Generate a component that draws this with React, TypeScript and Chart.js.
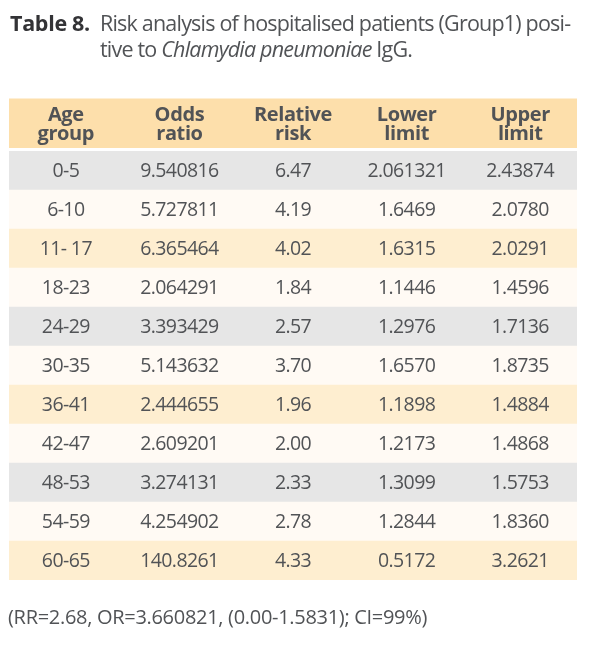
import React, { useEffect, useRef } from "react";
import { Chart, registerables } from "chart.js";

Chart.register(...registerables);

const headerTop = ["Age", "Odds", "Relative", "Lower", "Upper"];
const headerBottom = ["group", "ratio", "risk", "limit", "limit"];
const ageGroups = ["0-5", "6-10", "11- 17", "18-23", "24-29", "30-35", "36-41", "42-47", "48-53", "54-59", "60-65"];
const oddsRatio = ["9.540816", "5.727811", "6.365464", "2.064291", "3.393429", "5.143632", "2.444655", "2.609201", "3.274131", "4.254902", "140.8261"];
const relativeRisk = ["6.47", "4.19", "4.02", "1.84", "2.57", "3.70", "1.96", "2.00", "2.33", "2.78", "4.33"];
const lowerLimit = ["2.061321", "1.6469", "1.6315", "1.1446", "1.2976", "1.6570", "1.1898", "1.2173", "1.3099", "1.2844", "0.5172"];
const upperLimit = ["2.43874", "2.0780", "2.0291", "1.4596", "1.7136", "1.8735", "1.4884", "1.4868", "1.5753", "1.8360", "3.2621"];
const rowShade = ["gray", "cream", "orange", "cream", "gray", "cream", "orange", "cream", "gray", "cream", "orange"];

const COLORS: Record<string, string> = {
  gray: "#e6e6e6",
  cream: "#fffaf4",
  orange: "#feeed0",
  header: "#fddfab",
};
const TEXT = "#515356";
const FONT = '"Open Sans", sans-serif';

const tablePlugin = {
  id: "tableText",
  beforeDatasetsDraw(chart: any) {
    const { ctx, chartArea, scales } = chart;
    const x = scales.x;
    const x0 = x.getPixelForValue(0);
    const x1 = x.getPixelForValue(5);
    ctx.save();
    ctx.fillStyle = COLORS.header;
    ctx.fillRect(x0, chartArea.top - 52.5, x1 - x0, 49.5);
    ctx.fillStyle = TEXT;
    ctx.font = `bold 20px ${FONT}`;
    (ctx as any).letterSpacing = "-0.4px";
    ctx.textAlign = "center";
    ctx.textBaseline = "alphabetic";
    headerTop.forEach((t, i) => {
      const cx = x.getPixelForValue(i + 0.5);
      ctx.fillText(t, cx, chartArea.top - 30.5);
      ctx.fillText(headerBottom[i], cx, chartArea.top - 11);
    });
    ctx.restore();
  },
  afterDatasetsDraw(chart: any) {
    const { ctx, scales } = chart;
    const x = scales.x;
    const y = scales.y;
    const cols = [ageGroups, oddsRatio, relativeRisk, lowerLimit, upperLimit];
    ctx.save();
    ctx.fillStyle = TEXT;
    ctx.font = `19.5px ${FONT}`;
    (ctx as any).letterSpacing = "-0.6px";
    ctx.textAlign = "center";
    ctx.textBaseline = "middle";
    ageGroups.forEach((_, r) => {
      const cy = y.getPixelForValue(r);
      cols.forEach((col, c) => {
        ctx.fillText(col[r], x.getPixelForValue(c + 0.5), cy + 1);
      });
    });
    ctx.restore();
  },
};

export default function App() {
  const ref = useRef<HTMLCanvasElement | null>(null);
  useEffect(() => {
    if (!ref.current) return;
    const chart = new Chart(ref.current, {
      type: "bar",
      data: {
        labels: ageGroups,
        datasets: [
          {
            data: ageGroups.map(() => [0, 5]) as any,
            backgroundColor: rowShade.map((s) => COLORS[s]),
            borderWidth: 0,
            barPercentage: 1,
            categoryPercentage: 1,
          },
        ],
      },
      options: {
        indexAxis: "y",
        responsive: false,
        maintainAspectRatio: false,
        animation: false,
        layout: { padding: { left: 9, right: 28, top: 151, bottom: 81 } },
        plugins: { legend: { display: false }, tooltip: { enabled: false }, title: { display: false } },
        scales: {
          x: { type: "linear", min: 0, max: 5, display: false, grid: { display: false } },
          y: { type: "category", display: false, grid: { display: false } },
        },
      },
      plugins: [tablePlugin],
    });
    return () => chart.destroy();
  }, []);

  return (
    <div style={{ position: "fixed", left: 0, top: 0, width: 605, height: 661, background: "#fff", fontFamily: FONT, color: TEXT }}>
      <canvas ref={ref} width={605} height={661} style={{ position: "absolute", left: 0, top: 0, width: 605, height: 661 }} />
      <div style={{ position: "absolute", left: 10, top: 9.5, fontSize: 21.5, lineHeight: "26px", fontWeight: 700, letterSpacing: "-0.3px", color: "#333336", whiteSpace: "nowrap" }}>
        Table 8.
      </div>
      <div style={{ position: "absolute", left: 100, top: 9.5, fontSize: 21.5, lineHeight: "26px", letterSpacing: "-0.8px", whiteSpace: "nowrap" }}>
        Risk analysis of hospitalised patients (Group1) posi-
        <br />
        tive to <i>Chlamydia pneumoniae</i> IgG.
      </div>
      <div style={{ position: "absolute", left: 8, top: 605, fontSize: 20, lineHeight: "24px", letterSpacing: "-0.3px", whiteSpace: "nowrap" }}>
        (RR=2.68, OR=3.660821, (0.00-1.5831); CI=99%)
      </div>
    </div>
  );
}
